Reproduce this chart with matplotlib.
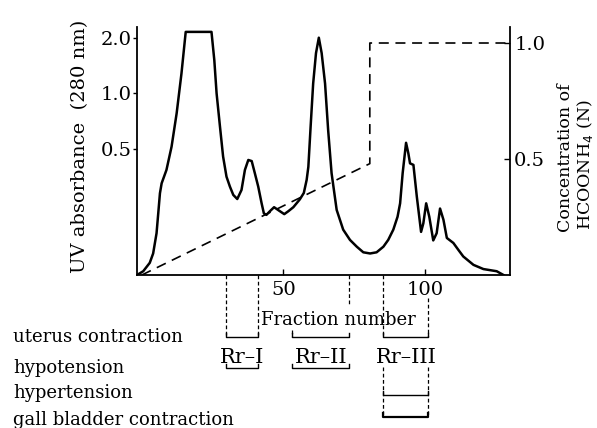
import numpy as np
import matplotlib.pyplot as plt
from matplotlib.ticker import FixedLocator, NullLocator, FixedFormatter

plt.rcParams['font.family'] = ['DejaVu Serif']

# UV absorbance (280 nm) elution profile
fraction = [-1.7, 0.5, 2.8, 4.0, 5.2, 5.8, 6.4, 7.0, 8.7, 10.5, 12.3, 14.0, 15.5,
            24.6, 25.6, 26.4, 27.6, 28.7, 29.9, 31.1, 32.3, 33.7, 35.2, 36.4,
            37.6, 38.8, 39.9, 41.1, 42.3, 43.1, 44.0, 45.2, 46.7, 48.8, 50.3,
            51.7, 53.5, 55.8, 57.2, 58.2, 58.8, 59.6, 60.5, 61.5, 62.5, 63.5,
            64.7, 65.8, 67.0, 68.8, 71.1, 73.5, 75.9, 78.2, 80.6, 82.9, 85.3,
            87.0, 88.8, 90.3, 91.2, 92.1, 93.3, 94.1, 94.7, 95.9, 97.1, 98.6,
            99.4, 100.4, 101.5, 102.9, 104.1, 105.3, 106.5, 107.7, 110.0,
            111.8, 113.5, 117.1, 120.6, 125.3, 127.7]
absorbance = [0.104, 0.109, 0.121, 0.136, 0.175, 0.224, 0.288, 0.326, 0.385, 0.514,
              0.78, 1.28, 2.15, 2.15, 1.51, 1.0, 0.66, 0.455, 0.354, 0.313, 0.282,
              0.268, 0.30, 0.385, 0.436, 0.43, 0.37, 0.313, 0.254, 0.224, 0.22,
              0.23, 0.242, 0.23, 0.222, 0.23, 0.242, 0.267, 0.289, 0.34, 0.40,
              0.66, 1.13, 1.65, 2.0, 1.65, 1.13, 0.63, 0.37, 0.234, 0.183, 0.161,
              0.148, 0.138, 0.136, 0.138, 0.148, 0.161, 0.183, 0.215, 0.254, 0.37,
              0.54, 0.474, 0.418, 0.41, 0.276, 0.178, 0.198, 0.254, 0.215, 0.160,
              0.175, 0.238, 0.207, 0.165, 0.155, 0.142, 0.131, 0.118, 0.112,
              0.109, 0.104]

# HCOONH4 gradient (N)
grad_x = [0, 80.5, 80.5, 130]
grad_y = [0, 0.48, 1.0, 1.0]

# active fractions: (label, start, end)
pools = [('Rr–I', 29.6, 40.9), ('Rr–II', 53.1, 73.3), ('Rr–III', 85.3, 101.2)]
activities = ['uterus contraction', 'hypotension', 'hypertension',
              'gall bladder contraction']

W, H = 597, 428


def px(x, y):
    return x / W, 1 - y / H


def ay(y):
    # pixel row -> axes fraction (axes spans rows 27..275)
    return (275 - y) / 248


fig = plt.figure(figsize=(W / 100, H / 100), dpi=100)
ax = fig.add_axes([137 / W, 153 / H, 373 / W, 248 / H])
ax.plot(fraction, absorbance, color='black', lw=1.8)
ax.set_yscale('log')
ax.set_ylim(0.104, 2.285)
ax.set_xlim(-1.7, 130)
ax.yaxis.set_major_locator(FixedLocator([0.5, 1.0, 2.0]))
ax.yaxis.set_major_formatter(FixedFormatter(['0.5', '1.0', '2.0']))
ax.yaxis.set_minor_locator(NullLocator())
ax.set_xticks([50, 100])
ax.tick_params(axis='x', direction='in', length=4, width=1, labelsize=14, pad=4)
ax.tick_params(axis='y', direction='out', length=3, width=1, labelsize=14, pad=1)
ax.spines['top'].set_visible(False)
ax.spines['right'].set_visible(False)
for s in ('left', 'bottom'):
    ax.spines[s].set_linewidth(1.3)

ax2 = ax.twinx()
ax2.plot(grad_x, grad_y, color='black', lw=1.2, dashes=(6, 4))
ax2.set_ylim(0, 1.069)
ax2.set_yticks([0.5, 1.0])
ax2.set_yticklabels(['0.5', '1.0'])
ax2.tick_params(axis='y', direction='in', length=4, width=1, labelsize=14, pad=3)
ax2.spines['top'].set_visible(False)
ax2.spines['left'].set_visible(False)
ax2.spines['bottom'].set_visible(False)
ax2.spines['right'].set_linewidth(1.3)

fig.text(*px(80, 146), 'UV absorbance  (280 nm)', rotation=90, fontsize=14,
         ha='center', va='center')
fig.text(*px(565, 158), 'Concentration of', rotation=90, fontsize=12.5,
         ha='center', va='center')
fig.text(*px(585, 165), 'HCOONH$_4$ (N)', rotation=90, fontsize=12.5,
         ha='center', va='center')
fig.text(*px(338, 325), 'Fraction number', fontsize=13, ha='center',
         va='baseline')

# activity labels on the left
rows = [342, 373, 398, 425]
for name, r in zip(activities, rows):
    fig.text(*px(13, r), name, fontsize=13, ha='left', va='baseline')

tr = ax.get_xaxis_transform()
kw = dict(transform=tr, clip_on=False, color='black')
dash = dict(kw, lw=0.9, dashes=(3, 2))
tk = 0.015


def bracket(x0, x1, y, up=True, lw=1.0):
    d = tk if up else -tk
    ax.plot([x0, x0, x1, x1], [y + d, y, y, y + d], lw=lw, **kw)


y_ut, y_hypo, y_hyper, y_gall = ay(337), ay(368), ay(395), ay(417)

# Rr-I
_, a, b = pools[0]
for x in (a, b):
    ax.plot([x, x], [0, y_ut], **dash)
bracket(a, b, y_ut, up=True)
bracket(a, b, y_hypo, up=True)

# Rr-II
_, a, b = pools[1]
ax.plot([b, b], [0, ay(305)], **dash)
ax.plot([a, a], [ay(330), y_ut], **dash)
bracket(a, b, y_ut, up=True)
bracket(a, b, y_hypo, up=True)

# Rr-III
_, a, b = pools[2]
ax.plot([a, a], [0, y_ut], **dash)
ax.plot([b, b], [ay(298), y_ut], **dash)
for x in (a, b):
    ax.plot([x, x], [ay(367), y_gall], **dash)
bracket(a, b, y_ut, up=True)
bracket(a, b, y_hyper, up=True)
bracket(a, b, y_gall, up=True, lw=1.6)

for (lab, a, b) in pools:
    ax.text((a + b) / 2, ay(363), lab, transform=tr, fontsize=15,
            ha='center', va='baseline', clip_on=False)

fig.savefig('out.png', dpi=100)
